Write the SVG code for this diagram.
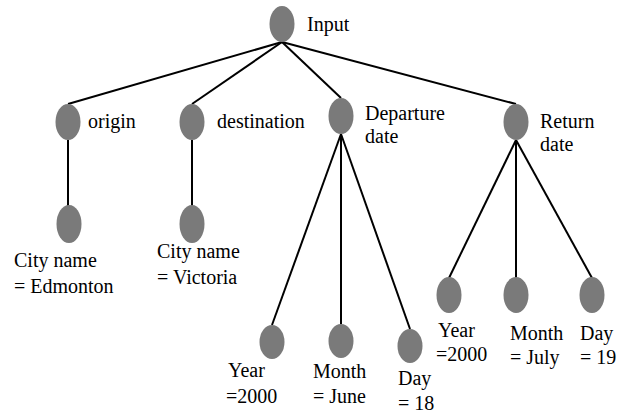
<svg xmlns="http://www.w3.org/2000/svg" width="620" height="414" viewBox="0 0 620 414">
  <style>
    .node { fill: #7a7a7a; }
    .edge { stroke: #000; stroke-width: 2; fill: none; }
    .labels text { font-family: "Liberation Serif", "Times New Roman", "DejaVu Serif", serif; font-size: 20px; fill: #000; }
  </style>
  <rect width="620" height="414" fill="#fff"/>
  <g id="connectors">
    <line class="edge" x1="282" y1="42" x2="68" y2="104"/>
    <line class="edge" x1="282" y1="42" x2="192" y2="104"/>
    <line class="edge" x1="282" y1="42" x2="341" y2="98"/>
    <line class="edge" x1="282" y1="42" x2="516" y2="104"/>
    <line class="edge" x1="68" y1="140" x2="68" y2="206"/>
    <line class="edge" x1="192" y1="140" x2="192" y2="206"/>
    <line class="edge" x1="341" y1="134" x2="272" y2="325"/>
    <line class="edge" x1="341" y1="134" x2="341" y2="324"/>
    <line class="edge" x1="341" y1="134" x2="410" y2="329"/>
    <line class="edge" x1="516" y1="140" x2="449" y2="278"/>
    <line class="edge" x1="516" y1="140" x2="516" y2="278"/>
    <line class="edge" x1="516" y1="140" x2="592" y2="278"/>
  </g>
  <g class="labels">
  <g id="input">
    <ellipse class="node" cx="282" cy="24" rx="12.5" ry="18"/>
    <text x="307" y="31">Input</text>
  </g>
  <g id="origin">
    <ellipse class="node" cx="68" cy="122" rx="12.5" ry="18"/>
    <text x="88" y="128">origin</text>
  </g>
  <g id="destination">
    <ellipse class="node" cx="192" cy="122" rx="12.5" ry="18"/>
    <text x="217" y="128">destination</text>
  </g>
  <g id="departure-date">
    <ellipse class="node" cx="341" cy="116" rx="12.5" ry="18"/>
    <text x="365" y="120">Departure</text>
    <text x="365" y="143">date</text>
  </g>
  <g id="return-date">
    <ellipse class="node" cx="516" cy="122" rx="12.5" ry="18"/>
    <text x="540" y="128">Return</text>
    <text x="540" y="151">date</text>
  </g>
  <g id="origin-city">
    <ellipse class="node" cx="69" cy="224" rx="12.5" ry="19"/>
    <text x="14" y="267">City name</text>
    <text x="14" y="293">= Edmonton</text>
  </g>
  <g id="destination-city">
    <ellipse class="node" cx="192" cy="224" rx="12.5" ry="19"/>
    <text x="157" y="258">City name</text>
    <text x="157" y="284">= Victoria</text>
  </g>
  <g id="departure-year">
    <ellipse class="node" cx="272" cy="342" rx="12.5" ry="17"/>
    <text x="228" y="377">Year</text>
    <text x="226" y="403">=2000</text>
  </g>
  <g id="departure-month">
    <ellipse class="node" cx="341" cy="341" rx="12.5" ry="17"/>
    <text x="313" y="378">Month</text>
    <text x="313" y="403">= June</text>
  </g>
  <g id="departure-day">
    <ellipse class="node" cx="410" cy="346" rx="12.5" ry="17"/>
    <text x="398" y="385">Day</text>
    <text x="398" y="410">= 18</text>
  </g>
  <g id="return-year">
    <ellipse class="node" cx="449" cy="295" rx="12.5" ry="18"/>
    <text x="438" y="337">Year</text>
    <text x="436" y="361">=2000</text>
  </g>
  <g id="return-month">
    <ellipse class="node" cx="516" cy="295" rx="12.5" ry="18"/>
    <text x="510" y="340">Month</text>
    <text x="510" y="364">= July</text>
  </g>
  <g id="return-day">
    <ellipse class="node" cx="592" cy="295" rx="12.5" ry="18"/>
    <text x="580" y="340">Day</text>
    <text x="580" y="364">= 19</text>
  </g>
  </g>
</svg>
